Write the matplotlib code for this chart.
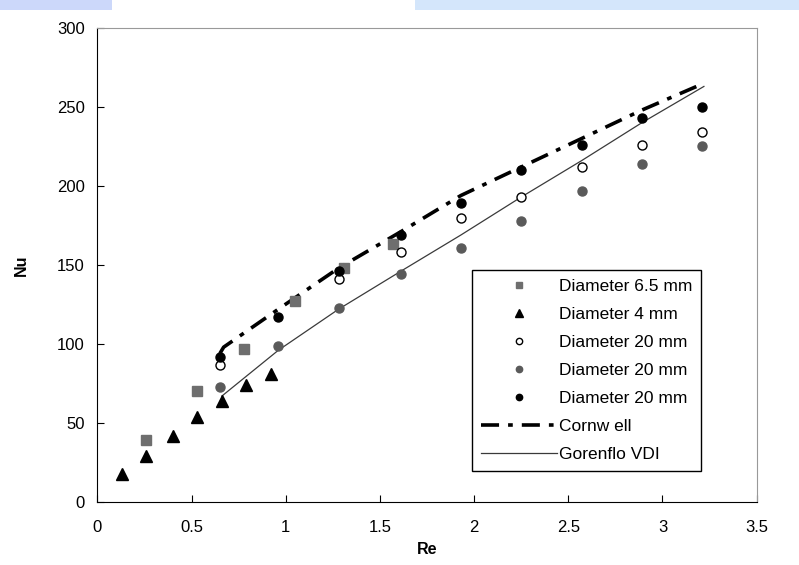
import matplotlib
matplotlib.use("Agg")
import matplotlib.pyplot as plt
from matplotlib.patches import Rectangle

plt.rcParams['font.family'] = ['Liberation Sans', 'DejaVu Sans']

# data
re_sq = [0.26, 0.53, 0.78, 1.05, 1.31, 1.57]
nu_sq = [39, 70, 97, 127, 148, 163]

re_tri = [0.13, 0.26, 0.40, 0.53, 0.66, 0.79, 0.92]
nu_tri = [18, 29, 42, 54, 64, 74, 81]

re_open = [0.65, 1.28, 1.61, 1.93, 2.25, 2.57, 2.89, 3.21]
nu_open = [87, 141, 158, 180, 193, 212, 226, 234]

re_grey = [0.65, 0.96, 1.28, 1.61, 1.93, 2.25, 2.57, 2.89, 3.21]
nu_grey = [73, 99, 123, 144, 161, 178, 197, 214, 225]

re_black = [0.65, 0.96, 1.28, 1.61, 1.93, 2.25, 2.57, 2.89, 3.21]
nu_black = [92, 117, 146, 169, 189, 210, 226, 243, 250]

re_corn = [0.65, 0.67, 0.96, 1.28, 1.61, 1.93, 2.25, 2.57, 2.89, 3.22]
nu_corn = [94, 98, 122, 148, 171, 194, 212, 230, 248, 265]

re_gor = [0.66, 0.96, 1.28, 1.61, 1.93, 2.25, 2.57, 2.89, 3.22]
nu_gor = [67, 96, 122, 146, 169, 193, 216, 240, 263]

fig = plt.figure(figsize=(7.99, 5.65), dpi=100)
ax = fig.add_axes([0.122, 0.1115, 0.825, 0.839])

# light blue strips along the top edge of the screenshot
fig.patches.append(Rectangle((0, 0.982), 0.14, 0.018, transform=fig.transFigure,
                             color='#ccd8fa', lw=0))
fig.patches.append(Rectangle((0.52, 0.982), 0.48, 0.018, transform=fig.transFigure,
                             color='#d4e6fb', lw=0))

ax.plot(re_corn, nu_corn, color='black', lw=2.6, dashes=(5, 2.5, 1.3, 2.5),
        label='Cornw ell', zorder=2)
ax.plot(re_gor, nu_gor, color='#3a3a3a', lw=0.9, label='Gorenflo VDI', zorder=2)

ax.plot(re_sq, nu_sq, 's', color='#6e6e6e', ms=7, label='Diameter 6.5 mm', zorder=3)
ax.plot(re_tri, nu_tri, '^', color='black', ms=9, label='Diameter 4 mm', zorder=3)
ax.plot(re_open, nu_open, 'o', mfc='white', mec='black', mew=1, ms=6.5,
        label='Diameter 20 mm', zorder=3)
ax.plot(re_grey, nu_grey, 'o', color='#5a5a5a', ms=6.5, label='Diameter 20 mm', zorder=3)
ax.plot(re_black, nu_black, 'o', color='black', ms=6.5, label='Diameter 20 mm', zorder=3)

ax.set_xlim(0, 3.5)
ax.set_ylim(0, 300)
ax.set_xticks([0, 0.5, 1, 1.5, 2, 2.5, 3, 3.5])
ax.set_xticklabels(['0', '0.5', '1', '1.5', '2', '2.5', '3', '3.5'])
ax.set_yticks(range(0, 301, 50))
ax.tick_params(direction='in', length=5, labelsize=12)
ax.tick_params(axis='x', pad=13)
ax.tick_params(axis='y', pad=9)

ax.spines['top'].set_color('#999999')
ax.spines['right'].set_color('#999999')
ax.spines['left'].set_color('black')
ax.spines['bottom'].set_color('black')

ax.set_xlabel('Re', fontsize=11.5, fontweight='bold', labelpad=5)
ax.set_ylabel('Nu', fontsize=11.5, fontweight='bold', labelpad=20)

handles, labels = ax.get_legend_handles_labels()
order = [2, 3, 4, 5, 6, 0, 1]
leg = ax.legend([handles[i] for i in order], [labels[i] for i in order],
                loc='upper left', bbox_to_anchor=(0.568, 0.489),
                borderaxespad=0, fancybox=False, framealpha=1,
                edgecolor='black', fontsize=12.5, handlelength=4.4,
                handletextpad=0.1, markerscale=0.7, labelspacing=0.74,
                borderpad=0.5)
leg.get_frame().set_linewidth(1.0)

fig.savefig('out.png', dpi=100)
